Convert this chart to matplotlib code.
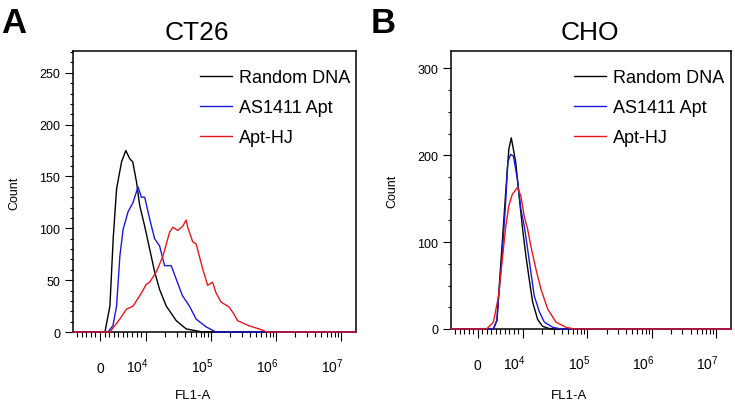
import matplotlib
matplotlib.use("Agg")
import matplotlib.pyplot as plt
import numpy as np
from matplotlib.ticker import FixedLocator, MultipleLocator
import matplotlib.transforms as mtransforms

plt.rcParams['font.family'] = ['Liberation Sans', 'DejaVu Sans']
plt.rcParams['mathtext.fontset'] = 'custom'
plt.rcParams['mathtext.rm'] = 'Liberation Sans'

series_names = ["Random DNA", "AS1411 Apt", "Apt-HJ"]
series_colors = ["#000000", "#1a1ad6", "#e5181c"]

# CT26 histograms (FL1-A value, count)
ct26_random_x = [-5900, 1087, 2174, 2891, 3630, 4717, 5652, 6522, 7174, 7978, 8696, 9783,
                 11510, 13720, 16360, 20700, 29430, 41800, 74100, 1.7e7]
ct26_random_y = [0, 0, 25, 90, 138, 164, 175, 167, 164, 145, 122, 102,
                 80, 58, 41, 25, 11, 3, 0, 0]
ct26_as1411_x = [-5900, 1739, 2826, 3630, 4348, 5065, 6152, 7239, 8326, 9065, 9783, 11510,
                 13720, 16360, 19500, 24660, 29430, 36720, 46970, 59430, 84500, 120000, 1.7e7]
ct26_as1411_y = [0, 0, 6, 25, 73, 99, 116, 125, 140, 130, 130, 109,
                 90, 83, 64, 64, 51, 35, 25, 12.5, 5, 0, 0]
ct26_apthj_x = [-5900, 2174, 4348, 5804, 7239, 8696, 10250, 11510, 14560, 18370, 23230, 26100,
                31140, 37050, 41800, 44230, 52760, 59430, 75000, 89400, 106400, 120000,
                143100, 191600, 228400, 256600, 387000, 550000, 736000, 1.7e7]
ct26_apthj_y = [0, 0, 12.5, 22, 25, 35, 46, 48, 58, 73, 96, 101,
                98, 102, 108, 101, 87, 85, 61, 45, 48, 38,
                29, 24, 17, 11, 6, 3, 0, 0]

# CHO histograms (FL1-A value, count)
cho_random_x = [-5900, 3477, 4250, 4614, 5386, 6136, 6886, 7432, 8409, 9159, 9932, 11130,
                12540, 14150, 16930, 20240, 27230, 1.7e7]
cho_random_y = [0, 0, 10, 38, 96, 153, 207, 220, 192, 153, 115, 84,
                57, 31, 11, 3, 0, 0]
cho_as1411_x = [-5900, 3477, 4250, 4614, 5386, 6136, 6659, 7273, 7886, 8795, 9545, 10470,
                11830, 13310, 15000, 17940, 21430, 28940, 39000, 1.7e7]
cho_as1411_y = [0, 0, 10, 35, 84, 142, 192, 201, 199, 172, 138, 119,
                92, 65, 38, 20, 8, 2, 0, 0]
cho_apthj_x = [-5900, 1977, 3477, 4614, 5386, 6136, 6886, 7659, 8795, 9545, 10470, 11830,
               13310, 15920, 19050, 24210, 32570, 46640, 62100, 1.7e7]
cho_apthj_y = [0, 0, 8, 38, 77, 115, 142, 155, 163, 153, 130, 115,
               95, 69, 46, 23, 8, 2, 0, 0]

x_major = [0, 1e4, 1e5, 1e6, 1e7]
x_major_labels = ["0", r"$\mathregular{10^{4}}$", r"$\mathregular{10^{5}}$",
                  r"$\mathregular{10^{6}}$", r"$\mathregular{10^{7}}$"]


def panel(ax, series_x, series_y, ymax, ymajor, yminor):
    for xs, ys, name, col in zip(series_x, series_y, series_names, series_colors):
        ax.plot(xs, ys, color=col, lw=1.0, label=name, zorder=3, clip_on=False)
    ax.set_xscale('symlog', linthresh=1e4, linscale=0.632)
    ax.set_xlim(-5900, 1.7e7)
    ax.set_ylim(0, ymax)

    minors = list(np.arange(-5000, 0, 1000)) + list(np.arange(1000, 10000, 1000))
    for d in [1e4, 1e5, 1e6]:
        minors += [k * d for k in range(2, 10)]
    ax.xaxis.set_major_locator(FixedLocator(x_major))
    ax.xaxis.set_minor_locator(FixedLocator(minors))
    ax.set_xticklabels(x_major_labels)
    ax.yaxis.set_major_locator(MultipleLocator(ymajor))
    ax.yaxis.set_minor_locator(MultipleLocator(yminor))

    ax.tick_params(axis='x', which='major', direction='out', length=6.5, width=0.8,
                   pad=22, labelsize=10)
    ax.tick_params(axis='x', which='minor', direction='out', length=3.5, width=0.8)
    ax.tick_params(axis='y', which='major', direction='out', length=5.8, width=0.8,
                   pad=3.5, labelsize=9)
    ax.tick_params(axis='y', which='minor', direction='out', length=2.4, width=0.8)
    for sp in ax.spines.values():
        sp.set_linewidth(1.1)

    shift = mtransforms.ScaledTranslation(2 / 72, 0, ax.figure.dpi_scale_trans)
    for lab in ax.get_xticklabels():
        lab.set_va('baseline')
        if lab.get_text() != "0":
            lab.set_ha('right')
            lab.set_transform(lab.get_transform() + shift)


fig = plt.figure(figsize=(7.35, 4.06), dpi=100)
W, H = 735, 406

axA = fig.add_axes([73 / W, 1 - 333 / H, 283 / W, 281 / H])
panel(axA, [ct26_random_x, ct26_as1411_x, ct26_apthj_x],
      [ct26_random_y, ct26_as1411_y, ct26_apthj_y], 271, 50, 10)

axB = fig.add_axes([451 / W, 1 - 330 / H, 280 / W, 278 / H])
panel(axB, [cho_random_x, cho_as1411_x, cho_apthj_x],
      [cho_random_y, cho_as1411_y, cho_apthj_y], 320, 100, 25)

for ax, lx in [(axA, 200), (axB, 574)]:
    ax.legend(loc='upper left', bbox_to_anchor=(lx / W, 1 - 70 / H),
              bbox_transform=fig.transFigure, frameon=False, fontsize=13,
              handlelength=1.75, handletextpad=0.4, labelspacing=0.72,
              borderpad=0, borderaxespad=0)

fig.text(1 / W, 1 - 33 / H, "A", fontsize=25, fontweight='bold', ha='left', va='baseline')
fig.text(371 / W, 1 - 33 / H, "B", fontsize=25, fontweight='bold', ha='left', va='baseline')
fig.text(197 / W, 1 - 40 / H, "CT26", fontsize=19, ha='center', va='baseline')
fig.text(590 / W, 1 - 40 / H, "CHO", fontsize=19, ha='center', va='baseline')
fig.text(14 / W, 1 - 193 / H, "Count", fontsize=9, rotation=90, ha='center', va='center')
fig.text(392 / W, 1 - 191 / H, "Count", fontsize=9, rotation=90, ha='center', va='center')
fig.text(193 / W, 1 - 399 / H, "FL1-A", fontsize=9.5, ha='center', va='baseline')
fig.text(569 / W, 1 - 399 / H, "FL1-A", fontsize=9.5, ha='center', va='baseline')

fig.savefig("out.png", dpi=100)
